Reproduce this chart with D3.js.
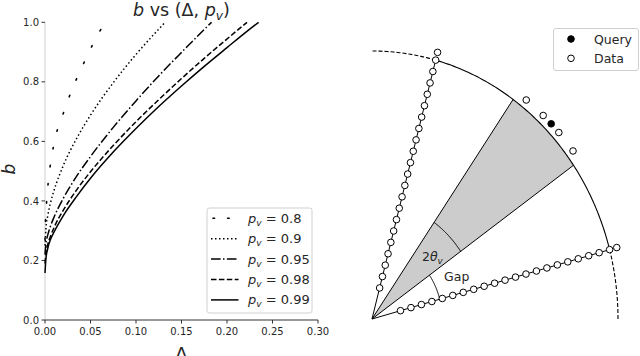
<!DOCTYPE html>
<meta charset="utf-8">
<style>
    body { margin: 0; background: #fff; }
    text { font-family: "DejaVu Sans", sans-serif; fill: #262626; }
</style>
<body>
<script src="https://d3js.org/d3.v7.min.js"></script>
<script>

    var width = 640,
        height = 356;

    // left panel: b against Delta, one curve per p_v
    var pvLabels = ["0.8", "0.9", "0.95", "0.98", "0.99"];
    var deltaP08 = [0, 0.0003, 0.0011, 0.0025, 0.0044, 0.0074, 0.011, 0.0172, 0.0238, 0.0310, 0.0392, 0.0477, 0.0566, 0.066];
    var bP08     = [0.27, 0.31, 0.364, 0.426, 0.487, 0.549, 0.610, 0.668, 0.726, 0.784, 0.840, 0.896, 0.950, 1.0];
    var deltaP09 = [0, 0.001, 0.003, 0.006, 0.01, 0.02, 0.035, 0.05, 0.075, 0.1, 0.125, 0.132];
    var bP09     = [0.25, 0.307, 0.350, 0.393, 0.436, 0.518, 0.611, 0.688, 0.797, 0.892, 0.977, 1.0];
    var deltaP095 = [0, 0.001, 0.003, 0.006, 0.01, 0.02, 0.035, 0.05, 0.075, 0.1, 0.125, 0.15, 0.175, 0.183];
    var bP095     = [0.22, 0.256, 0.285, 0.315, 0.346, 0.408, 0.484, 0.549, 0.647, 0.736, 0.820, 0.899, 0.976, 1.0];
    var deltaP098 = [0, 0.001, 0.003, 0.006, 0.01, 0.02, 0.035, 0.05, 0.075, 0.1, 0.125, 0.15, 0.175, 0.2, 0.222];
    var bP098     = [0.19, 0.225, 0.253, 0.281, 0.311, 0.368, 0.438, 0.498, 0.586, 0.666, 0.740, 0.811, 0.879, 0.944, 1.0];
    var deltaP099 = [0, 0.001, 0.003, 0.006, 0.01, 0.02, 0.035, 0.05, 0.075, 0.1, 0.125, 0.15, 0.175, 0.2, 0.225, 0.2347];
    var bP099     = [0.158, 0.205, 0.240, 0.270, 0.296, 0.350, 0.416, 0.476, 0.564, 0.643, 0.717, 0.786, 0.852, 0.915, 0.977, 1.0];
    var xTicks = [0, 0.05, 0.10, 0.15, 0.20, 0.25, 0.30];
    var yTicks = [0, 0.2, 0.4, 0.6, 0.8, 1.0];

    // right panel: two data rays, points off the circle, query, wedge
    var rayAngles = [75, 15];
    var rayRadii = [0.12, 0.164, 0.208, 0.252, 0.296, 0.34, 0.384, 0.428, 0.472, 0.516, 0.56,
                    0.604, 0.648, 0.692, 0.736, 0.78, 0.824, 0.868, 0.912, 0.956, 1.0];
    var outerAngles = [75, 52.5, 47.5, 42.5, 37.5, 15];
    var outerRadius = 1.03;
    var queryAngle = 45;
    var thetaV = 10;

    var series = [
        { label: pvLabels[0], dx: deltaP08, b: bP08, dash: "1.6,16.6", cap: "round", w: 1.6 },
        { label: pvLabels[1], dx: deltaP09, b: bP09, dash: "1.5,2.5", cap: "butt", w: 1.5 },
        { label: pvLabels[2], dx: deltaP095, b: bP095, dash: "9.6,2.4,1.5,2.4", cap: "butt", w: 1.5 },
        { label: pvLabels[3], dx: deltaP098, b: bP098, dash: "5.5,2.4", cap: "butt", w: 1.5 },
        { label: pvLabels[4], dx: deltaP099, b: bP099, dash: null, cap: "butt", w: 1.5 }
    ];

    var svg = d3.select("body").append("svg")
        .attr("width", width)
        .attr("height", height);

    // ---------- left panel ----------
    var x = d3.scaleLinear().domain([0, 0.3]).range([45, 318]);
    var y = d3.scaleLinear().domain([0, 1]).range([320, 22.3]);

    var left = svg.append("g");

    // spines
    left.append("line")
        .attr("x1", x(0)).attr("x2", x(0))
        .attr("y1", y(0)).attr("y2", y(1))
        .attr("stroke", "#cfcfcf").attr("stroke-width", 1);
    left.append("line")
        .attr("x1", x(0)).attr("x2", x(0.3))
        .attr("y1", y(0)).attr("y2", y(0))
        .attr("stroke", "#333").attr("stroke-width", 1);

    left.selectAll(".xt").data(xTicks).enter().append("line")
        .attr("x1", function(d) { return x(d); }).attr("x2", function(d) { return x(d); })
        .attr("y1", y(0)).attr("y2", y(0) + 3.5)
        .attr("stroke", "#333");
    left.selectAll(".xl").data(xTicks).enter().append("text")
        .attr("x", function(d) { return x(d); })
        .attr("y", y(0) + 15)
        .attr("text-anchor", "middle")
        .style("font-size", "10px")
        .text(function(d) { return d3.format(".2f")(d); });

    left.selectAll(".yt").data(yTicks).enter().append("line")
        .attr("x1", x(0) - 3.5).attr("x2", x(0))
        .attr("y1", function(d) { return y(d); }).attr("y2", function(d) { return y(d); })
        .attr("stroke", "#333");
    left.selectAll(".yl").data(yTicks).enter().append("text")
        .attr("x", x(0) - 6)
        .attr("y", function(d) { return y(d) + 3.6; })
        .attr("text-anchor", "end")
        .style("font-size", "10px")
        .text(function(d) { return d3.format(".1f")(d); });

    var line = d3.line()
        .x(function(d) { return x(d[0]); })
        .y(function(d) { return y(d[1]); })
        .curve(d3.curveMonotoneX);

    left.selectAll(".curve").data(series).enter().append("path")
        .attr("fill", "none")
        .attr("stroke", "#000")
        .attr("stroke-width", function(d) { return d.w; })
        .attr("stroke-linecap", function(d) { return d.cap; })
        .attr("stroke-dasharray", function(d) { return d.dash; })
        .attr("d", function(d) { return line(d.dx.map(function(v, i) { return [v, d.b[i]]; })); });

    // title
    var title = left.append("text")
        .attr("x", (x(0) + x(0.3)) / 2)
        .attr("y", 16)
        .attr("text-anchor", "middle")
        .style("font-size", "17.5px");
    title.append("tspan").style("font-style", "italic").text("b");
    title.append("tspan").text(" vs (Δ, ");
    title.append("tspan").style("font-style", "italic").text("p");
    title.append("tspan").style("font-style", "italic").style("font-size", "12.3px").attr("dy", 4).text("v");
    title.append("tspan").attr("dy", -4).text(")");

    left.append("text")
        .attr("transform", "translate(15,169) rotate(-90)")
        .attr("text-anchor", "middle")
        .style("font-size", "17px")
        .style("font-style", "italic")
        .text("b");

    left.append("text")
        .attr("x", x(0.15))
        .attr("y", 360)
        .attr("text-anchor", "middle")
        .style("font-size", "18px")
        .text("Δ");

    // legend
    var lg = left.append("g");
    lg.append("rect")
        .attr("x", 207).attr("y", 208)
        .attr("width", 105).attr("height", 105)
        .attr("rx", 2.5)
        .attr("fill", "#fff").attr("fill-opacity", 0.8)
        .attr("stroke", "#d0d0d0");
    var items = lg.selectAll(".item").data(series).enter().append("g")
        .attr("transform", function(d, i) { return "translate(0," + (218.3 + i * 20.4) + ")"; });
    items.append("line")
        .attr("x1", 211).attr("x2", 238.5)
        .attr("stroke", "#000")
        .attr("stroke-width", function(d) { return d.w; })
        .attr("stroke-linecap", function(d) { return d.cap; })
        .attr("stroke-dasharray", function(d) { return d.dash === "1.6,16.6" ? "1.6,13" : d.dash; })
        .attr("stroke-dashoffset", function(d) { return d.dash === "1.6,16.6" ? -2 : 0; });
    var lt = items.append("text")
        .attr("x", 248)
        .attr("y", 4.5)
        .style("font-size", "13px");
    lt.append("tspan").style("font-style", "italic").text("p");
    lt.append("tspan").style("font-style", "italic").style("font-size", "9px").attr("dy", 3).text("v");
    lt.append("tspan").attr("dy", -3).text(function(d) { return " = " + d.label; });

    // ---------- right panel ----------
    var sx = d3.scaleLinear().domain([0, 1]).range([372, 618]);
    var sy = d3.scaleLinear().domain([0, 1]).range([319, 51]);

    function pt(r, deg) {
        var a = deg * Math.PI / 180;
        return [sx(r * Math.cos(a)), sy(r * Math.sin(a))];
    }
    function arc(r, a0, a1) {
        var n = Math.max(2, Math.ceil(Math.abs(a1 - a0) / 0.5));
        return d3.range(n + 1).map(function(i) { return pt(r, a0 + (a1 - a0) * i / n); });
    }
    var pline = d3.line();

    var right = svg.append("g");

    var lowA = d3.min(rayAngles), highA = d3.max(rayAngles);

    // wedge around the query direction
    var wedge = [pt(0, 0)].concat(arc(1, queryAngle - thetaV, queryAngle + thetaV));
    right.append("path")
        .attr("d", pline(wedge) + "Z")
        .attr("fill", "#cccccc")
        .attr("stroke", "none");
    [queryAngle - thetaV, queryAngle + thetaV].forEach(function(a) {
        right.append("path")
            .attr("d", pline([pt(0, 0), pt(1, a)]))
            .attr("stroke", "#000").attr("stroke-width", 1).attr("fill", "none");
    });

    // unit circle: solid between the rays, dashed outside
    right.append("path")
        .attr("d", pline(arc(1, lowA, highA)))
        .attr("fill", "none").attr("stroke", "#000").attr("stroke-width", 1.1);
    [[0, lowA], [highA, 90]].forEach(function(r) {
        right.append("path")
            .attr("d", pline(arc(1, r[0], r[1])))
            .attr("fill", "none").attr("stroke", "#000").attr("stroke-width", 1.1)
            .attr("stroke-dasharray", "4,2");
    });

    // angle arcs
    right.append("path")
        .attr("d", pline(arc(0.44, queryAngle - thetaV, queryAngle + thetaV)))
        .attr("fill", "none").attr("stroke", "#000").attr("stroke-width", 1);
    right.append("path")
        .attr("d", pline(arc(0.285, lowA, queryAngle - thetaV)))
        .attr("fill", "none").attr("stroke", "#000").attr("stroke-width", 1);

    // data rays
    rayAngles.forEach(function(a) {
        right.append("path")
            .attr("d", pline([pt(0, 0)].concat(rayRadii.map(function(r) { return pt(r, a); }))))
            .attr("fill", "none").attr("stroke", "#000").attr("stroke-width", 1);
        right.selectAll(null).data(rayRadii).enter().append("circle")
            .attr("cx", function(r) { return pt(r, a)[0]; })
            .attr("cy", function(r) { return pt(r, a)[1]; })
            .attr("r", 3.3)
            .attr("fill", "#fff").attr("stroke", "#000").attr("stroke-width", 1);
    });

    right.selectAll(".outer").data(outerAngles).enter().append("circle")
        .attr("cx", function(a) { return pt(outerRadius, a)[0]; })
        .attr("cy", function(a) { return pt(outerRadius, a)[1]; })
        .attr("r", 3.3)
        .attr("fill", "#fff").attr("stroke", "#000").attr("stroke-width", 1);

    right.append("circle")
        .attr("cx", pt(outerRadius, queryAngle)[0])
        .attr("cy", pt(outerRadius, queryAngle)[1])
        .attr("r", 3.3)
        .attr("fill", "#000").attr("stroke", "#000");

    // labels
    var tl = right.append("text")
        .attr("x", sx(0.203)).attr("y", sy(0.215))
        .style("font-size", "12.5px");
    tl.append("tspan").text("2");
    tl.append("tspan").style("font-style", "italic").text("θ");
    tl.append("tspan").style("font-style", "italic").style("font-size", "8.8px").attr("dy", 3).text("v");

    right.append("text")
        .attr("x", sx(0.293)).attr("y", sy(0.142))
        .style("font-size", "12.5px")
        .text("Gap");

    // legend
    var rl = right.append("g");
    rl.append("rect")
        .attr("x", 553.5).attr("y", 28.5)
        .attr("width", 85).attr("height", 42)
        .attr("rx", 2.5)
        .attr("fill", "#fff").attr("stroke", "#d0d0d0");
    rl.append("circle").attr("cx", 571).attr("cy", 39).attr("r", 3.3)
        .attr("fill", "#000").attr("stroke", "#000");
    rl.append("circle").attr("cx", 571).attr("cy", 58.3).attr("r", 3.3)
        .attr("fill", "#fff").attr("stroke", "#000");
    rl.append("text").attr("x", 594).attr("y", 43.5).style("font-size", "12.5px").text("Query");
    rl.append("text").attr("x", 594).attr("y", 62.8).style("font-size", "12.5px").text("Data");

</script>
